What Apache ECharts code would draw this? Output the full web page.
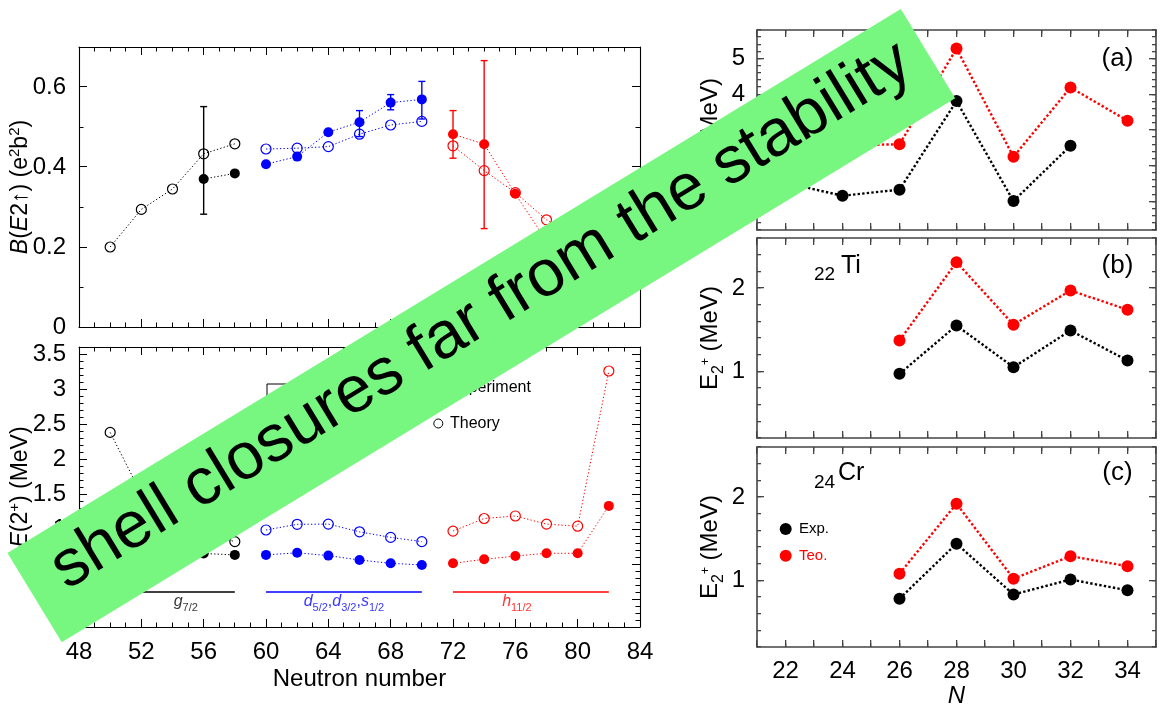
<!DOCTYPE html>
<html><head><meta charset="utf-8">
<script src="https://cdn.jsdelivr.net/npm/echarts@6/dist/echarts.min.js"></script>
<style>html,body{margin:0;padding:0;background:#fff}#c{width:1162px;height:709px}</style>
</head><body><div id="c"></div>
<script>
const FONT = '"Liberation Sans", Arial, Helvetica, sans-serif';

// ---------- Left chart: B(E2) panel ----------
const bTheoG = [[50,0.200],[52,0.294],[54,0.345],[56,0.433],[58,0.458]];
const bExpG  = [[56,0.370],[58,0.384]];
const bErrG  = [[56,0.282,0.551]];
const bTheoD = [[60,0.445],[62,0.447],[64,0.451],[66,0.482],[68,0.505],[70,0.514]];
const bExpD  = [[60,0.407],[62,0.426],[64,0.487],[66,0.512],[68,0.561],[70,0.569]];
const bErrD  = [[66,0.476,0.541],[68,0.543,0.581],[70,0.520,0.614]];
const bTheoH = [[72,0.453],[74,0.391],[76,0.336],[78,0.268],[80,0.220]];
const bExpH  = [[72,0.482],[74,0.457],[76,0.333],[78,0.215]];
const bErrH  = [[72,0.422,0.541],[74,0.246,0.666]];

// ---------- Left chart: E(2+) panel ----------
const eTheoG = [[50,2.38],[52,1.50],[54,1.20],[56,0.95],[58,0.82]];
const eExpG  = [[56,0.65],[58,0.63]];
const eTheoD = [[60,0.986],[62,1.067],[64,1.070],[66,0.960],[68,0.880],[70,0.820]];
const eExpD  = [[60,0.630],[62,0.660],[64,0.620],[66,0.557],[68,0.510],[70,0.486]];
const eTheoH = [[72,0.970],[74,1.150],[76,1.186],[78,1.070],[80,1.040],[82,3.257]];
const eExpH  = [[72,0.510],[74,0.567],[76,0.614],[78,0.653],[80,0.653],[82,1.330]];
const shellG = [[50,0.1],[58,0.1]];
const shellD = [[60,0.1],[70,0.1]];
const shellH = [[72,0.1],[82,0.1]];
const shellLabels = [
  {pos:[54.85,-0.07], text:'{i|g}{s|7/2}', color:'#000'},
  {pos:[65.0,-0.07],  text:'{i|d}{s|5/2}{n|,}{i|d}{s|3/2}{n|,}{i|s}{s|1/2}', color:'#0000ff'},
  {pos:[76.1,-0.07],  text:'{i|h}{s|11/2}', color:'#ff0000'}
];

// ---------- Right chart: E(2+) vs N ----------
const rightN = [22,24,26,28,30,32,34];
const caExp = [1.52,1.16,1.33,3.81,1.01,2.56,null];
const caTeo = [2.40,2.57,2.60,5.28,2.25,4.19,3.26];
const tiExp = [null,null,0.97,1.55,1.05,1.49,1.13];
const tiTeo = [null,null,1.37,2.31,1.56,1.97,1.74];
const crExp = [null,null,0.78,1.44,0.83,1.01,0.88];
const crTeo = [null,null,1.08,1.92,1.02,1.29,1.17];

// ---------- Axis ranges / tick labels ----------
const leftX  = {min:48, max:84, major:4, minor:1};
const bE2Y   = {min:0, max:0.7, minor:0.1, labMin:0, labMax:0.6, major:0.2};
const e2Y    = {min:-0.4, max:3.6, minor:0.1, labMin:0, labMax:3.5, major:0.5};
const rightX = {min:21, max:35, major:1, minor:1, labelEvery:2};
const rightY = [
  {min:0.2, max:5.8, minor:0.2, labMin:1, labMax:5, major:1},
  {min:0.2, max:2.6, minor:0.2, labMin:1, labMax:2, major:1},
  {min:0.2, max:2.6, minor:0.2, labMin:1, labMax:2, major:1}
];

const LST = {color:'#000', w:1.1, tw:1, major:8, minor:4.5, fs:24, margin:13};
const RST = {color:'#444', w:1.6, tw:1.3, major:7, minor:4, fs:24, margin:12};

const mainGrids = [
  {left:79, top:47, width:561, height:280},
  {left:79, top:347, width:561, height:280},
  {left:757, top:30, width:399, height:200},
  {left:757, top:238, width:399, height:200},
  {left:757, top:447, width:399, height:200}
];
const grids = mainGrids.slice();
const xAxes = [], yAxes = [];

const richName = {
  n:{fontSize:23, fontFamily:FONT, color:'#000', verticalAlign:'bottom'},
  i:{fontSize:23, fontFamily:FONT, fontStyle:'italic', color:'#000', verticalAlign:'bottom'},
  p:{fontSize:15, fontFamily:FONT, color:'#000', verticalAlign:'bottom', padding:[0,0,10,0]},
  s:{fontSize:16, fontFamily:FONT, color:'#000', verticalAlign:'bottom'},
  r:{fontSize:24, fontFamily:FONT, color:'#000', verticalAlign:'bottom', padding:[0,0,5,0]},
  q:{fontSize:12, fontFamily:FONT, color:'#000', verticalAlign:'bottom', padding:[0,0,15,0]}
};

function range(a, b, s) { const r = []; for (let k = 0; a + k*s <= b + 1e-9; k++) r.push(+(a + k*s).toFixed(6)); return r; }
function ax(extra) { return Object.assign({type:'value', splitLine:{show:false}, axisTick:{show:false}}, extra); }
function line(st) { return {show:true, onZero:false, lineStyle:{color:st.color, width:st.w}}; }
function lab(st, show, formatter) {
  const o = {show, fontSize:st.fs, color:'#000', fontFamily:FONT, margin:st.margin};
  if (formatter) o.formatter = formatter;
  return o;
}

function addX(g, cfg, st, showLab, name, fmt) {
  const idx = xAxes.length;
  ['bottom','top'].forEach((p, k) => {
    xAxes.push(ax(Object.assign({gridIndex:g, position:p, min:cfg.min, max:cfg.max, interval:cfg.major,
      axisLine:line(st), axisLabel:lab(st, showLab && k === 0, fmt)}, k === 0 && name ? name : {})));
  });
  return idx;
}
// y frame axes in the data grid; labels in a helper grid spanning the labelled range
function addY(g, cfg, st, name) {
  const idx = yAxes.length;
  ['left','right'].forEach((p, j) => {
    yAxes.push(ax(Object.assign({gridIndex:g, position:p, min:cfg.min, max:cfg.max, interval:cfg.minor,
      axisLine:line(st), axisLabel:{show:false}}, j === 0 && name ? name : {})));
  });
  const r = mainGrids[g];
  const k = r.height / (cfg.max - cfg.min);
  const hg = grids.length;
  grids.push({left:r.left, width:r.width, top:r.top + (cfg.max - cfg.labMax) * k, height:(cfg.labMax - cfg.labMin) * k});
  xAxes.push(ax({gridIndex:hg, min:0, max:1, show:false}));
  yAxes.push(ax({gridIndex:hg, position:'left', min:cfg.labMin, max:cfg.labMax, interval:cfg.major,
    axisLine:{show:false, onZero:false}, axisLabel:lab(st, true)}));
  return idx;
}

const lx0 = addX(0, leftX, LST, false);
const ly0 = addY(0, bE2Y, LST, {name:'{i|B}{n|(}{i|E}{n|2↑) (e}{p|2}{n|b}{p|2}{n|)}', nameLocation:'middle', nameGap:47, nameTextStyle:{rich:richName}});
const lx1 = addX(1, leftX, LST, true, {name:'Neutron number', nameLocation:'middle', nameGap:40, nameTextStyle:{fontSize:24, fontFamily:FONT, color:'#000'}});
const ly1 = addY(1, e2Y, LST, {name:'{i|E}{n|(2}{p|+}{n|) (MeV)}', nameLocation:'middle', nameGap:47, nameTextStyle:{rich:richName}});
const rName = {name:'{r|E}{s|2}{q|+}{r| (MeV)}', nameLocation:'middle', nameGap:30, nameTextStyle:{rich:richName}};
const rx = [], ry = [];
for (let g = 0; g < 3; g++) {
  rx.push(addX(g + 2, rightX, RST, g === 2,
    g === 2 ? {name:'N', nameLocation:'middle', nameGap:37, nameTextStyle:{fontSize:24, fontStyle:'italic', fontFamily:FONT, color:'#000'}} : null,
    v => (v % rightX.labelEvery === 0 ? String(v) : '')));
  ry.push(addY(g + 2, rightY[g], RST, rName));
}

function lineS(data, xi, yi, color, filled, size, lw, dash) {
  return {type:'line', data, xAxisIndex:xi, yAxisIndex:yi, symbol:'circle', symbolSize:size, showSymbol:true,
    lineStyle:{color, width:lw, type:dash}, animation:false, z:3, silent:true,
    itemStyle: filled ? {color, borderWidth:0} : {color:'rgba(0,0,0,0)', borderColor:color, borderWidth:1.2}};
}
function errS(data, xi, yi, color) {
  return {type:'custom', data, xAxisIndex:xi, yAxisIndex:yi, z:2, silent:true, animation:false,
    encode:{x:0, y:[1,2]},
    renderItem:(params, api) => {
      const x = api.value(0), p1 = api.coord([x, api.value(1)]), p2 = api.coord([x, api.value(2)]);
      const w = 3.5, st = {stroke:color, lineWidth:1.4};
      return {type:'group', children:[
        {type:'line', shape:{x1:p1[0],y1:p1[1],x2:p2[0],y2:p2[1]}, style:st},
        {type:'line', shape:{x1:p1[0]-w,y1:p1[1],x2:p1[0]+w,y2:p1[1]}, style:st},
        {type:'line', shape:{x1:p2[0]-w,y1:p2[1],x2:p2[0]+w,y2:p2[1]}, style:st}]};
    }};
}
const DOT = [1.3,2.2];
const K = '#000', B = '#0000ff', R = '#ff0000';
const series = [
  errS(bErrG,lx0,ly0,K), errS(bErrD,lx0,ly0,B), errS(bErrH,lx0,ly0,R),
  lineS(bTheoG,lx0,ly0,K,false,10,1,DOT), lineS(bExpG,lx0,ly0,K,true,10,1,DOT),
  lineS(bTheoD,lx0,ly0,B,false,10,1,DOT), lineS(bExpD,lx0,ly0,B,true,10,1,DOT),
  lineS(bTheoH,lx0,ly0,R,false,10,1,DOT), lineS(bExpH,lx0,ly0,R,true,10,1,DOT),
  lineS(eTheoG,lx1,ly1,K,false,10,1,DOT), lineS(eExpG,lx1,ly1,K,true,10,1,DOT),
  lineS(eTheoD,lx1,ly1,B,false,10,1,DOT), lineS(eExpD,lx1,ly1,B,true,10,1,DOT),
  lineS(eTheoH,lx1,ly1,R,false,10,1,DOT), lineS(eExpH,lx1,ly1,R,true,10,1,DOT),
  {type:'line', data:shellG, xAxisIndex:lx1, yAxisIndex:ly1, symbol:'none', lineStyle:{color:K, width:1.3}, silent:true, animation:false},
  {type:'line', data:shellD, xAxisIndex:lx1, yAxisIndex:ly1, symbol:'none', lineStyle:{color:B, width:1.3}, silent:true, animation:false},
  {type:'line', data:shellH, xAxisIndex:lx1, yAxisIndex:ly1, symbol:'none', lineStyle:{color:R, width:1.3}, silent:true, animation:false},
  {type:'scatter', xAxisIndex:lx1, yAxisIndex:ly1, symbolSize:1, itemStyle:{color:'rgba(0,0,0,0)'}, silent:true, animation:false,
    data: shellLabels.map(l => ({value:l.pos, label:{show:true, position:'inside', formatter:l.text,
      rich:{
        i:{fontSize:16, fontStyle:'italic', fontFamily:FONT, color:l.color, verticalAlign:'bottom', padding:[0,0,4,0]},
        n:{fontSize:16, fontFamily:FONT, color:l.color, verticalAlign:'bottom', padding:[0,0,4,0]},
        s:{fontSize:11, fontFamily:FONT, color:l.color, verticalAlign:'bottom'}}}}))}
];
const RDOT = [2.4,2.2];
const pairs = arr => rightN.map((n, i) => [n, arr[i]]).filter(p => p[1] !== null);
[[caExp,caTeo],[tiExp,tiTeo],[crExp,crTeo]].forEach((pr, g) => {
  series.push(lineS(pairs(pr[0]), rx[g], ry[g], K, true, 12, 2.4, RDOT));
  series.push(lineS(pairs(pr[1]), rx[g], ry[g], R, true, 12, 2.4, RDOT));
});

// inward tick marks on all four sides of every panel, as thin filled rects mapped from each axis range onto its grid
const panelTicks = [
  {g:0, xc:leftX, yc:bE2Y, st:LST},
  {g:1, xc:leftX, yc:e2Y, st:LST},
  {g:2, xc:rightX, yc:rightY[0], st:RST},
  {g:3, xc:rightX, yc:rightY[1], st:RST},
  {g:4, xc:rightX, yc:rightY[2], st:RST}
];
const tickEls = [];
panelTicks.forEach(pt => {
  const r = mainGrids[pt.g], st = pt.st, tw = st.tw;
  const L = r.left, Rr = r.left + r.width, T = r.top, Bt = r.top + r.height;
  const px = v => L + (v - pt.xc.min) / (pt.xc.max - pt.xc.min) * r.width;
  const py = v => Bt - (v - pt.yc.min) / (pt.yc.max - pt.yc.min) * r.height;
  const rect = (x, y, w, h) => tickEls.push({type:'rect', z:40, silent:true, shape:{x, y, width:w, height:h}, style:{fill:st.color}});
  const xt = (v, len) => { const x = Math.round(px(v) - tw / 2); rect(x, Bt - len, tw, len); rect(x, T, tw, len); };
  const yt = (v, len) => { const y = Math.round(py(v) - tw / 2); rect(L, y, len, tw); rect(Rr - len, y, len, tw); };
  range(pt.xc.min, pt.xc.max, pt.xc.minor).forEach(v => xt(v, st.minor));
  range(pt.xc.min, pt.xc.max, pt.xc.major).forEach(v => xt(v, st.major));
  range(pt.yc.min, pt.yc.max, pt.yc.minor).forEach(v => yt(v, st.minor));
  range(pt.yc.labMin, pt.yc.labMax, pt.yc.major).forEach(v => yt(v, st.major));
});

const txt = (x, y, text, font, fill, align, va) => ({type:'text', x, y, z:50,
  style:{text, font, fill: fill || '#000', align: align || 'left', verticalAlign: va || 'middle'}});
const graphic = tickEls.concat([
  txt(1117.5, 59, '(a)', '26px ' + FONT, '#000', 'center'),
  txt(1117.5, 266, '(b)', '26px ' + FONT, '#000', 'center'),
  txt(1117.5, 473, '(c)', '26px ' + FONT, '#000', 'center'),
  txt(814, 284, '22', '19px ' + FONT, '#000', 'left', 'bottom'), txt(841, 278.6, 'Ti', '25px ' + FONT, '#000', 'left', 'bottom'),
  txt(814, 492.3, '24', '19px ' + FONT, '#000', 'left', 'bottom'), txt(838, 485.3, 'Cr', '25px ' + FONT, '#000', 'left', 'bottom'),
  {type:'circle', z:50, shape:{cx:785.7, cy:529, r:6}, style:{fill:'#000'}},
  txt(799, 529, 'Exp.', '15px ' + FONT),
  {type:'circle', z:50, shape:{cx:785.7, cy:555.7, r:6}, style:{fill:'#ff0000'}},
  txt(799, 555.7, 'Teo.', '15px ' + FONT, '#ff0000'),
  {type:'rect', z:50, shape:{x:267, y:384, width:40, height:60}, style:{fill:'none', stroke:'#000', lineWidth:1}},
  {type:'circle', z:50, shape:{cx:438.3, cy:387.3, r:4.5}, style:{fill:'#000'}},
  txt(450, 387.3, 'Experiment', '16px ' + FONT),
  {type:'circle', z:50, shape:{cx:438.3, cy:423.5, r:4.5}, style:{fill:'none', stroke:'#000', lineWidth:1}},
  txt(450, 423.5, 'Theory', '16px ' + FONT),
  {type:'group', x:481.3, y:325.6, rotation:0.547, z:100, children:[
    {type:'rect', z:100, shape:{x:-523, y:-52.25, width:1046, height:104.5}, style:{fill:'#78f780'}},
    {type:'text', z:101, x:5, y:-8, style:{text:'shell closures far from the stability', font:'66px ' + FONT, fill:'#000', align:'center', verticalAlign:'middle'}}
  ]}
]);

const chart = echarts.init(document.getElementById('c'), null, {renderer:'canvas'});
chart.setOption({
  backgroundColor:'#fff', animation:false,
  grid: grids, xAxis: xAxes, yAxis: yAxes, series, graphic
});
</script></body></html>
